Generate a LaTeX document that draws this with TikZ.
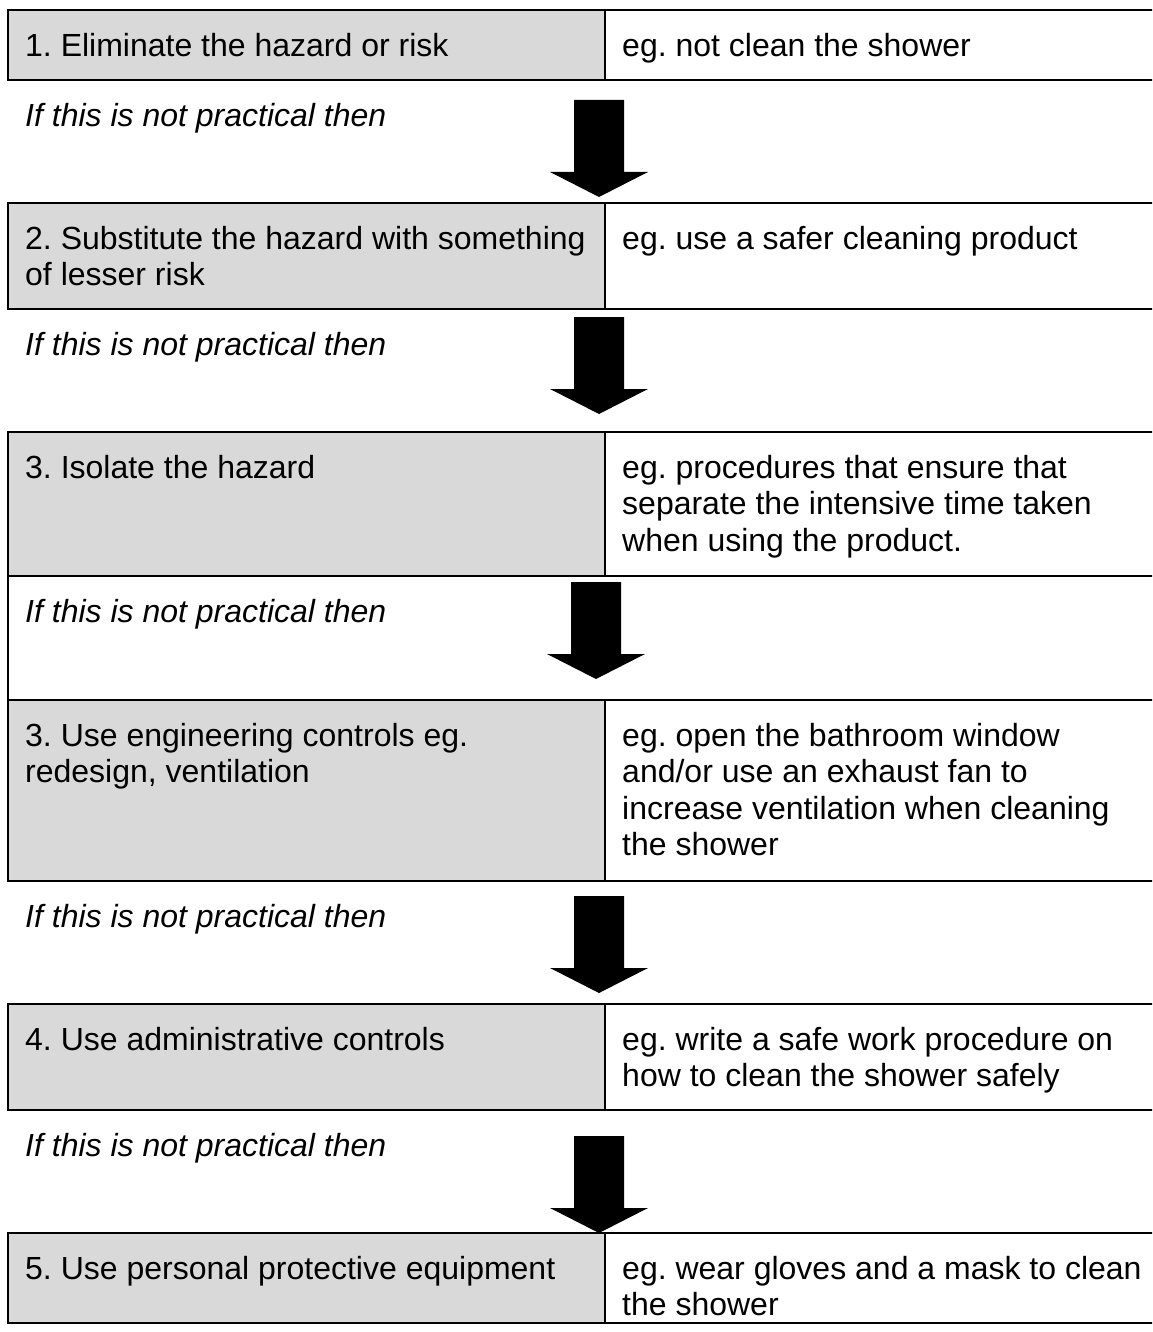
\documentclass[tikz,border=0pt]{standalone}
\usepackage{fontspec}
\setmainfont{Liberation Sans}
\frenchspacing
\definecolor{cellgray}{HTML}{D9D9D9}
\newcommand\tablerow[2]{%
  \fill[cellgray] (8,#1) rectangle (605,#2);
  \draw[rowline] (1160,#1) -- (8,#1) -- (8,#2) -- (1160,#2);
  \draw[rowline] (605,#1) -- (605,#2);}
\newcommand\blockarrowat[2]{%
  \fill[black] (#1-25,#2) -- (#1+25,#2) -- (#1+25,#2+72) -- (#1+49,#2+72)
    -- (#1,#2+97) -- (#1-49,#2+72) -- (#1-25,#2+72) -- cycle;}
\begin{document}
\frenchspacing
\begin{tikzpicture}[x=1pt,y=-1pt,
  txt/.style={anchor=north west, inner sep=0pt, align=left, font=\fontsize{32}{36.5}\selectfont\frenchspacing},
  gaptxt/.style={anchor=north west, inner sep=0pt, align=left, font=\fontsize{32}{36.5}\selectfont\itshape},
  rowline/.style={line width=2.8pt, line join=miter, line cap=rect}]
\useasboundingbox (0,0) rectangle (1152,1332);
\clip (0,0) rectangle (1152,1332);
\fill[white] (0,0) rectangle (1152,1332);
% table rows
\tablerow{10}{80}
\tablerow{203}{309}
\tablerow{432}{576}
\draw[rowline] (8,576) -- (8,700);
\tablerow{700}{881}
\tablerow{1004}{1110}
\tablerow{1233}{1323}
% arrows
\blockarrowat{599}{100}
\blockarrowat{599}{317}
\blockarrowat{596}{582}
\blockarrowat{599}{896}
\blockarrowat{599}{1136}
% texts
\node[txt] (r1l) at (25,30.5) {\strut 1. Eliminate the hazard or risk};
\node[txt] (r1r) at (622,30.5) {\strut eg. not clean the shower};
\node[gaptxt] (g1) at (25,100.5) {\strut If this is not practical then};
\node[txt] (r2l) at (25,223.5) {\strut 2. Substitute the hazard with something\\of lesser risk};
\node[txt] (r2r) at (622,223.5) {\strut eg. use a safer cleaning product};
\node[gaptxt] (g2) at (25,329.5) {\strut If this is not practical then};
\node[txt] (r3l) at (25,452.5) {\strut 3. Isolate the hazard};
\node[txt] (r3r) at (622,452.5) {\strut eg. procedures that ensure that\\separate the intensive time taken\\when using the product.};
\node[gaptxt] (g3) at (25,596.5) {\strut If this is not practical then};
\node[txt] (r4l) at (25,720.5) {\strut 3. Use engineering controls eg.\\redesign, ventilation};
\node[txt] (r4r) at (622,720.5) {\strut eg. open the bathroom window\\and/or use an exhaust fan to\\increase ventilation when cleaning\\the shower};
\node[gaptxt] (g4) at (25,901.5) {\strut If this is not practical then};
\node[txt] (r5l) at (25,1024.5) {\strut 4. Use administrative controls};
\node[txt] (r5r) at (622,1024.5) {\strut eg. write a safe work procedure on\\how to clean the shower safely};
\node[gaptxt] (g5) at (25,1130.5) {\strut If this is not practical then};
\node[txt] (r6l) at (25,1253.5) {\strut 5. Use personal protective equipment};
\node[txt] (r6r) at (622,1253.5) {\strut eg. wear gloves and a mask to clean\\the shower};
\end{tikzpicture}
\end{document}
